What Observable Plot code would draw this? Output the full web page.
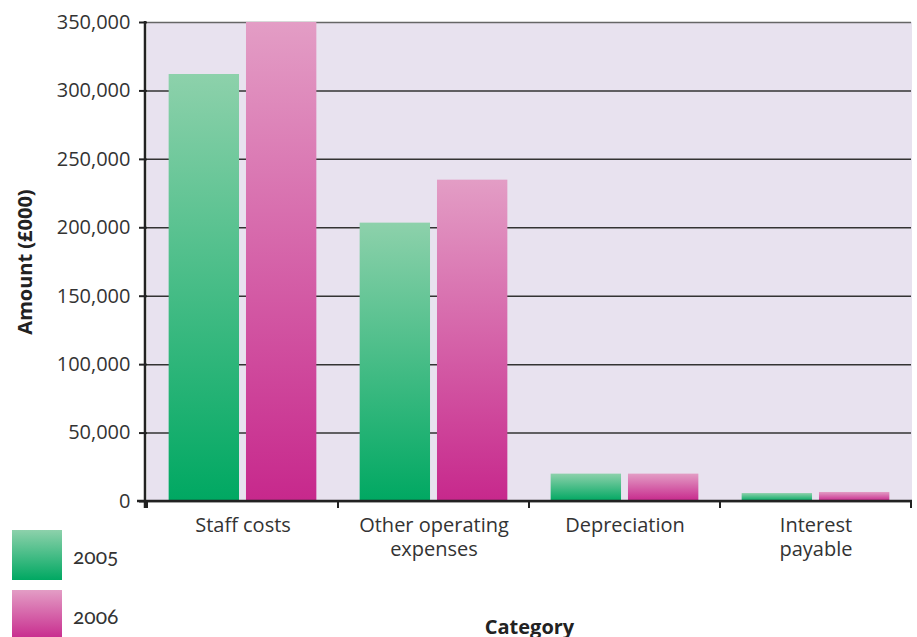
<!DOCTYPE html>
<html>
<head>
<meta charset="utf-8">
<script src="https://cdn.jsdelivr.net/npm/d3@7"></script>
<script src="https://cdn.jsdelivr.net/npm/@observablehq/plot@0.6"></script>
<style>
  body { margin: 0; background: #fff; }
  #wrap { position: relative; width: 917px; height: 637px; overflow: hidden; font-family: "Open Sans", "Noto Sans", sans-serif; color: #333; }
  #wrap svg { position: absolute; left: 0; top: 0; }
  g[aria-label="fx-axis label"] text, g[aria-label="y-axis label"] text { font-weight: 700; fill: #222; }
  .legend { position: absolute; left: 12px; top: 530px; }
  .legend .item { display: flex; align-items: center; height: 50px; margin-bottom: 10px; }
  .legend .sw { width: 50px; height: 50px; display: inline-block; }
  .legend .lab { margin-left: 11px; font-size: 21px; color: #333; font-family: Lato, "Open Sans", sans-serif; font-feature-settings: "onum"; font-variant-numeric: oldstyle-nums; }
</style>
</head>
<body>
<div id="wrap"></div>
<script>
// Expenditure by category, in £000
const categories = ["Staff costs", "Other operating expenses", "Depreciation", "Interest payable"];
const categoryLabels = ["Staff costs", "Other operating\nexpenses", "Depreciation", "Interest\npayable"];
const years = ["2005", "2006"];
const amounts2005 = [312000, 203400, 20000, 5800];
const amounts2006 = [350000, 234800, 20000, 6600];
const yTicks = [0, 50000, 100000, 150000, 200000, 250000, 300000, 350000];

// gradient stops per year: top colour, bottom colour
const yearGradients = [["#8dd1ab", "#00a862"], ["#e39dc5", "#c7288c"]];

const rows = categories.flatMap((c, i) => [
  {category: c, year: years[0], amount: amounts2005[i]},
  {category: c, year: years[1], amount: amounts2006[i]}
]);

const chart = Plot.plot({
  width: 917,
  height: 637,
  marginTop: 22,
  marginRight: 5,
  marginBottom: 136,
  marginLeft: 145,
  style: {fontFamily: "'Open Sans', 'Noto Sans', sans-serif", fontSize: "20px", color: "#333", background: "transparent", overflow: "visible"},
  fx: {domain: categories, padding: 0},
  x: {domain: years, paddingInner: 0.09, paddingOuter: 0.28, round: false, axis: null},
  y: {domain: [0, 350000]},
  color: {domain: years, range: years.map(y => `url(#fill${y})`)},
  marks: [
    Plot.frame({fill: "#e8e2ef", stroke: "#e8e2ef"}),
    Plot.gridY(yTicks, {stroke: d => d === 350000 ? "#666" : "#333", strokeOpacity: 1, strokeWidth: 1.5}),
    Plot.barY(rows, {fx: "category", x: "year", y: "amount", fill: "year"}),
    Plot.axisY(yTicks, {
      tickFormat: d3.format(","), tickSize: 8, tickPadding: 9, stroke: "#222", strokeWidth: 2,
      label: "Amount (£000)", labelAnchor: "center", labelOffset: 130, labelArrow: "none"
    }),
    Plot.axisFx({
      anchor: "bottom", tickSize: 0, tickPadding: 13, lineHeight: 1.2,
      tickFormat: d => categoryLabels[categories.indexOf(d)],
      label: "Category", labelAnchor: "center", labelOffset: 132, labelArrow: "none"
    })
  ]
});

const svg = d3.select(chart);
const defs = svg.insert("defs", ":first-child");
years.forEach((y, i) => {
  const lg = defs.append("linearGradient").attr("id", `fill${y}`)
    .attr("x1", 0).attr("y1", 0).attr("x2", 0).attr("y2", 1);
  lg.append("stop").attr("offset", "0%").attr("stop-color", yearGradients[i][0]);
  lg.append("stop").attr("offset", "100%").attr("stop-color", yearGradients[i][1]);
});

// axis lines and category boundary ticks
const fxScale = chart.scale("fx");
const yScale = chart.scale("y");
const frameLeft = fxScale.range[0], frameRight = fxScale.range[1];
const baseY = yScale.apply(0), topY = yScale.apply(350000);
const lines = svg.append("g").attr("stroke", "#222").attr("fill", "none");
lines.append("line").attr("x1", frameLeft - 8).attr("x2", frameRight).attr("y1", baseY).attr("y2", baseY).attr("stroke-width", 2.5);
lines.append("line").attr("x1", frameLeft).attr("x2", frameLeft).attr("y1", topY - 1).attr("y2", baseY + 7).attr("stroke-width", 2.5);
const bounds = categories.map(c => fxScale.apply(c)).concat([fxScale.apply(categories[categories.length - 1]) + fxScale.bandwidth]);
lines.selectAll(".bt").data(bounds).join("line")
  .attr("x1", d => d).attr("x2", d => d).attr("y1", baseY).attr("y2", baseY + 7).attr("stroke-width", 2);

const wrap = document.getElementById("wrap");
wrap.appendChild(chart);

const legend = d3.select(wrap).append("div").attr("class", "legend");
years.forEach((y, i) => {
  const item = legend.append("div").attr("class", "item");
  item.append("span").attr("class", "sw")
    .style("background", `linear-gradient(${yearGradients[i][0]}, ${yearGradients[i][1]})`);
  item.append("span").attr("class", "lab").text(y);
});
</script>
</body>
</html>
